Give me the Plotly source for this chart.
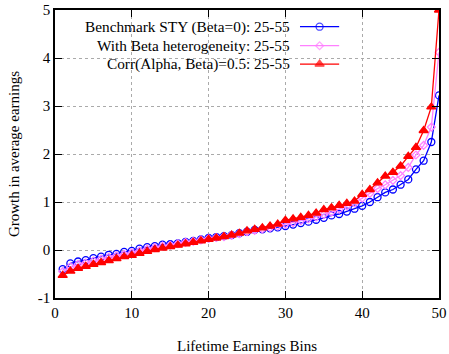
import plotly.graph_objects as go

bins = list(range(1, 51))

benchmark = [-0.40, -0.28, -0.24, -0.21, -0.17, -0.14, -0.10, -0.08, -0.04, -0.02,
             0.03, 0.06, 0.08, 0.11, 0.12, 0.14, 0.17, 0.19, 0.22, 0.25,
             0.27, 0.29, 0.31, 0.35, 0.38, 0.42, 0.43, 0.45, 0.47, 0.50,
             0.53, 0.56, 0.59, 0.63, 0.67, 0.72, 0.75, 0.80, 0.86, 0.92,
             1.00, 1.10, 1.20, 1.26, 1.36, 1.47, 1.68, 1.86, 2.25, 3.22]

beta_het = [-0.45, -0.35, -0.30, -0.27, -0.23, -0.19, -0.15, -0.12, -0.09, -0.06,
            -0.02, 0.02, 0.05, 0.08, 0.10, 0.13, 0.16, 0.18, 0.21, 0.24,
            0.26, 0.28, 0.31, 0.34, 0.38, 0.41, 0.44, 0.47, 0.50, 0.54,
            0.57, 0.61, 0.65, 0.69, 0.74, 0.79, 0.85, 0.92, 0.98, 1.08,
            1.18, 1.28, 1.36, 1.45, 1.55, 1.72, 1.98, 2.18, 2.56, 4.12]

corr = [-0.53, -0.44, -0.38, -0.34, -0.30, -0.26, -0.22, -0.18, -0.14, -0.11,
        -0.07, -0.03, 0.01, 0.04, 0.07, 0.10, 0.13, 0.16, 0.19, 0.22,
        0.25, 0.28, 0.31, 0.35, 0.40, 0.43, 0.46, 0.50, 0.54, 0.62,
        0.65, 0.68, 0.72, 0.77, 0.84, 0.88, 0.93, 0.97, 1.02, 1.16,
        1.26, 1.40, 1.54, 1.62, 1.75, 1.95, 2.14, 2.49, 2.98, 5.00]

series_names = ["Benchmark STY (Beta=0): 25-55",
                "With Beta heterogeneity: 25-55",
                "Corr(Alpha, Beta)=0.5: 25-55"]
series_values = [benchmark, beta_het, corr]
colors = ["#0000ff", "#ff80ff", "#ff0000"]
symbols = ["circle-open", "diamond-open", "triangle-up"]
msizes = [7, 6, 8]

x_ticks = [0, 10, 20, 30, 40, 50]
y_ticks = [-1, 0, 1, 2, 3, 4, 5]

FONT = "Times New Roman, Liberation Serif, serif"

fig = go.Figure()
for name, vals, c, s, ms in zip(series_names, series_values, colors, symbols, msizes):
    fig.add_trace(go.Scatter(x=bins, y=vals, mode="lines+markers", name=name,
                             line=dict(color=c, width=1.3),
                             marker=dict(symbol=s, size=ms, color=c,
                                         line=dict(color=c, width=1.3)),
                             showlegend=False))

# manual gnuplot-style legend (text left, sample right)
leg_rows = [0.942, 0.876, 0.812]
sample_x = [0.638, 0.689, 0.740]
for name, c, s, ms, ry in zip(series_names, colors, symbols, msizes, leg_rows):
    fig.add_trace(go.Scatter(x=sample_x, y=[ry] * 3, xaxis="x2", yaxis="y2",
                             mode="lines+markers", showlegend=False, hoverinfo="skip",
                             line=dict(color=c, width=1.3),
                             marker=dict(symbol=s, size=[0, ms, 0], color=c,
                                         line=dict(color=c, width=1.3))))
    fig.add_annotation(text=name, xref="paper", yref="paper", x=0.617, y=ry,
                       xanchor="right", yanchor="middle", showarrow=False,
                       font=dict(family=FONT, size=15.3, color="black"))

fig.add_shape(type="rect", xref="paper", yref="paper", x0=0.06, x1=0.755,
              y0=0.78, y1=0.975, fillcolor="white", line=dict(width=0),
              layer="between")

axis_common = dict(showline=True, linecolor="black", linewidth=1.5, mirror="ticks",
                   ticks="inside", ticklen=7, tickcolor="black", tickwidth=1.2,
                   showgrid=True, gridcolor="#aaaaaa", griddash="dot", gridwidth=1,
                   zeroline=False, automargin=False,
                   tickfont=dict(family=FONT, size=15, color="black"))

fig.update_layout(
    width=449, height=354,
    margin=dict(l=55, r=10, t=10, b=56),
    paper_bgcolor="white", plot_bgcolor="white",
    font=dict(family=FONT, color="black"),
    xaxis=dict(range=[0, 50], tickvals=x_ticks, ticktext=[str(v) for v in x_ticks],
               title=dict(text="Lifetime Earnings Bins", font=dict(family=FONT, size=15),
                          standoff=22),
               **axis_common),
    yaxis=dict(range=[-1, 5], tickvals=y_ticks, ticktext=[str(v) for v in y_ticks],
               title=dict(text="Growth in average earnings", font=dict(family=FONT, size=15),
                          standoff=15),
               **axis_common),
    xaxis2=dict(range=[0, 1], overlaying="x", visible=False),
    yaxis2=dict(range=[0, 1], overlaying="y", visible=False),
)

fig.write_html("out.html")
